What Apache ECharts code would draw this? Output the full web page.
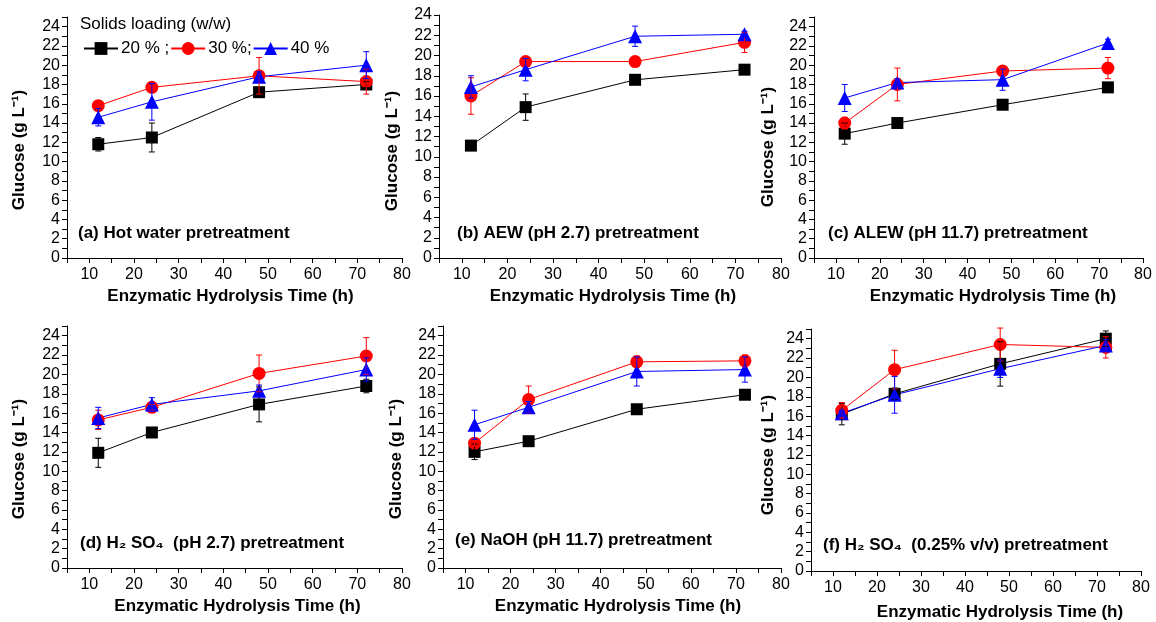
<!DOCTYPE html>
<html><head><meta charset="utf-8">
<script src="https://cdn.jsdelivr.net/npm/echarts@6/dist/echarts.min.js"></script>
<style>html,body{margin:0;padding:0;background:#fff}#c{width:1156px;height:622px}</style>
</head><body><div id="c"></div>
<script>
// ---------------- data ----------------
const hours = [12, 24, 48, 72];
const seriesNames = ['20 % ;', '30 %;', '40 %'];
const legendTitle = 'Solids loading (w/w)';
const xTickLabels = [10, 20, 30, 40, 50, 60, 70, 80];
const yTickLabels = [0, 2, 4, 6, 8, 10, 12, 14, 16, 18, 20, 22, 24];
const xTitle = 'Enzymatic Hydrolysis Time (h)';
const yTitle = 'Glucose (g L\u207B\u00B9)';
const panelLabels = [
  '(a) Hot water pretreatment',
  '(b) AEW (pH 2.7) pretreatment',
  '(c) ALEW (pH 11.7) pretreatment',
  '(d) H\u2082 SO\u2084  (pH 2.7) pretreatment',
  '(e) NaOH (pH 11.7) pretreatment',
  '(f) H\u2082 SO\u2084  (0.25% v/v) pretreatment'
];
const yMax = [25, 24, 25, 25, 25, 25];

// (a) Hot water
const a20 = [11.8, 12.5, 17.2, 18.0], a20err = [0.7, 1.5, 0.4, 0.3];
const a30 = [15.8, 17.7, 18.9, 18.3], a30err = [0.3, 0.3, 1.9, 1.3];
const a40 = [14.6, 16.2, 18.8, 20.0], a40err = [0.9, 1.9, 0.5, 1.4];
// (b) AEW
const b20 = [11.1, 14.9, 17.6, 18.6], b20err = [0.2, 1.3, 0.3, 0.3];
const b30 = [16.0, 19.4, 19.4, 21.3], b30err = [1.8, 0.4, 0.4, 1.0];
const b40 = [16.9, 18.6, 21.9, 22.1], b40err = [1.1, 1.1, 1.0, 0.3];
// (c) ALEW
const c20 = [12.9, 14.0, 15.9, 17.7], c20err = [1.1, 0.3, 0.3, 0.4];
const c30 = [14.0, 18.0, 19.4, 19.7], c30err = [0.6, 1.7, 0.3, 1.1];
const c40 = [16.6, 18.2, 18.5, 22.3], c40err = [1.4, 0.4, 1.1, 0.4];
// (d) H2SO4 pH 2.7
const d20 = [11.9, 14.0, 16.9, 18.8], d20err = [1.5, 0.4, 1.8, 0.7];
const d30 = [15.3, 16.6, 20.1, 21.9], d30err = [1.0, 0.3, 1.9, 1.9];
const d40 = [15.5, 16.9, 18.3, 20.5], d40err = [1.1, 0.7, 0.6, 1.2];
// (e) NaOH
const e20 = [12.0, 13.1, 16.4, 17.9], e20err = [0.8, 0.3, 0.3, 0.3];
const e30 = [12.9, 17.4, 21.3, 21.4], e30err = [0.3, 1.4, 0.6, 0.6];
const e40 = [14.8, 16.6, 20.3, 20.5], e40err = [1.5, 0.6, 1.5, 1.3];
// (f) H2SO4 0.25%
const f20 = [16.2, 18.3, 21.4, 24.0], f20err = [1.1, 0.6, 2.3, 0.8];
const f30 = [16.6, 20.8, 23.4, 23.1], f30err = [0.8, 2.0, 1.7, 1.1];
const f40 = [16.3, 18.2, 20.9, 23.3], f40err = [0.3, 1.9, 0.9, 0.6];

const panelValues = [[a20, a30, a40], [b20, b30, b40], [c20, c30, c40], [d20, d30, d40], [e20, e30, e40], [f20, f30, f40]];
const panelErrors = [[a20err, a30err, a40err], [b20err, b30err, b40err], [c20err, c30err, c40err], [d20err, d30err, d40err], [e20err, e30err, e40err], [f20err, f30err, f40err]];

// ---------------- layout / style ----------------
const FONT = "'Liberation Sans', Arial, Helvetica, sans-serif";
const colors = ['#000000', '#ff0000', '#0000ff'];
const symbols = ['rect', 'circle', 'triangle'];
const symbolSizes = [12, 13, 14];
const grids = [
  { left: 67, top: 17, width: 335, height: 241 },
  { left: 439, top: 15, width: 342, height: 243 },
  { left: 814, top: 17, width: 329, height: 241 },
  { left: 67, top: 326, width: 335, height: 242 },
  { left: 443, top: 326, width: 338, height: 242 },
  { left: 811, top: 329, width: 330, height: 243 }
];
const xNameShift = [-8, 6, 29, 6, 12, 48];   // padding (px) to move x-title sideways
const xNameGap = [30, 30, 30, 30, 30, 33];
const yNameShift = [25, 29, 19, 24, 24, 10]; // padding (px) to move y-title down
const yNameGap = [39, 38, 37, 39, 38, 34];
const labelPos = [[78, 225], [457, 225], [828, 225], [80, 535], [455, 532], [823, 537]];

const xAxes = [], yAxes = [], series = [], graphics = [];
grids.forEach((g, i) => {
  const sx = xNameShift[i];
  xAxes.push({
    gridIndex: i, type: 'value', min: 5, max: 80, interval: 5,
    axisLine: { lineStyle: { color: '#000', width: 1 } },
    axisTick: { length: 5, lineStyle: { color: '#000', width: 1 } },
    axisLabel: { formatter: v => xTickLabels.includes(v) ? String(v) : '', color: '#000', fontSize: 16, fontFamily: FONT, margin: 9 },
    splitLine: { show: false },
    name: xTitle, nameLocation: 'middle', nameGap: xNameGap[i],
    nameTextStyle: { fontWeight: 'bold', fontSize: 17, color: '#000', fontFamily: FONT,
      padding: sx >= 0 ? [0, 0, 0, sx] : [0, -sx, 0, 0] }
  });
  yAxes.push({
    gridIndex: i, type: 'value', min: 0, max: yMax[i], interval: 1,
    axisLine: { show: true, lineStyle: { color: '#000', width: 1 } },
    axisTick: { show: true, length: 5, lineStyle: { color: '#000', width: 1 } },
    axisLabel: { formatter: v => yTickLabels.includes(v) ? String(v) : '', color: '#000', fontSize: 16, fontFamily: FONT, margin: 7 },
    splitLine: { show: false },
    name: yTitle, nameLocation: 'middle', nameRotate: 90, nameGap: yNameGap[i],
    nameTextStyle: { fontWeight: 'bold', fontSize: 17, color: '#000', fontFamily: FONT, padding: [0, yNameShift[i], 0, 0] }
  });
  for (let s = 0; s < 3; s++) {
    series.push({
      type: 'line', name: seriesNames[s], xAxisIndex: i, yAxisIndex: i,
      data: hours.map((h, k) => [h, panelValues[i][s][k]]),
      symbol: symbols[s], symbolSize: symbolSizes[s],
      lineStyle: { color: colors[s], width: 1 },
      itemStyle: { color: colors[s] },
      emphasis: { disabled: true }, animation: false, z: 2
    });
  }
  for (let s = 0; s < 3; s++) {
    const col = colors[s];
    series.push({
      type: 'custom', name: 'err' + i + '_' + s, xAxisIndex: i, yAxisIndex: i,
      data: hours.map((h, k) => [h, panelValues[i][s][k] - panelErrors[i][s][k], panelValues[i][s][k] + panelErrors[i][s][k]]),
      encode: { x: 0, y: [1, 2] },
      renderItem: (params, api) => {
        const x = api.value(0);
        const pHi = api.coord([x, api.value(2)]);
        const pLo = api.coord([x, api.value(1)]);
        const w = 3;
        const st = { stroke: col, lineWidth: 1 };
        return { type: 'group', children: [
          { type: 'line', shape: { x1: pHi[0], y1: pHi[1], x2: pLo[0], y2: pLo[1] }, style: st },
          { type: 'line', shape: { x1: pHi[0] - w, y1: pHi[1], x2: pHi[0] + w, y2: pHi[1] }, style: st },
          { type: 'line', shape: { x1: pLo[0] - w, y1: pLo[1], x2: pLo[0] + w, y2: pLo[1] }, style: st }
        ]};
      },
      animation: false, silent: true, z: 3
    });
  }
  graphics.push({
    type: 'text', left: labelPos[i][0], top: labelPos[i][1],
    style: { text: panelLabels[i], font: 'bold 17px ' + FONT, fill: '#000' }
  });
});
graphics.push({
  type: 'text', left: 80, top: 16,
  style: { text: legendTitle, font: '17px ' + FONT, fill: '#000' }
});

const chart = echarts.init(document.getElementById('c'), null, { renderer: 'canvas' });
chart.setOption({
  backgroundColor: '#fff',
  animation: false,
  grid: grids,
  xAxis: xAxes,
  yAxis: yAxes,
  series: series,
  legend: {
    data: seriesNames, left: 78, top: 35, itemWidth: 34, itemHeight: 16, itemGap: 1,
    selectedMode: false,
    textStyle: { fontSize: 17, color: '#000', fontFamily: FONT, padding: [0, 0, 0, -2] }
  },
  graphic: graphics
});
</script></body></html>
